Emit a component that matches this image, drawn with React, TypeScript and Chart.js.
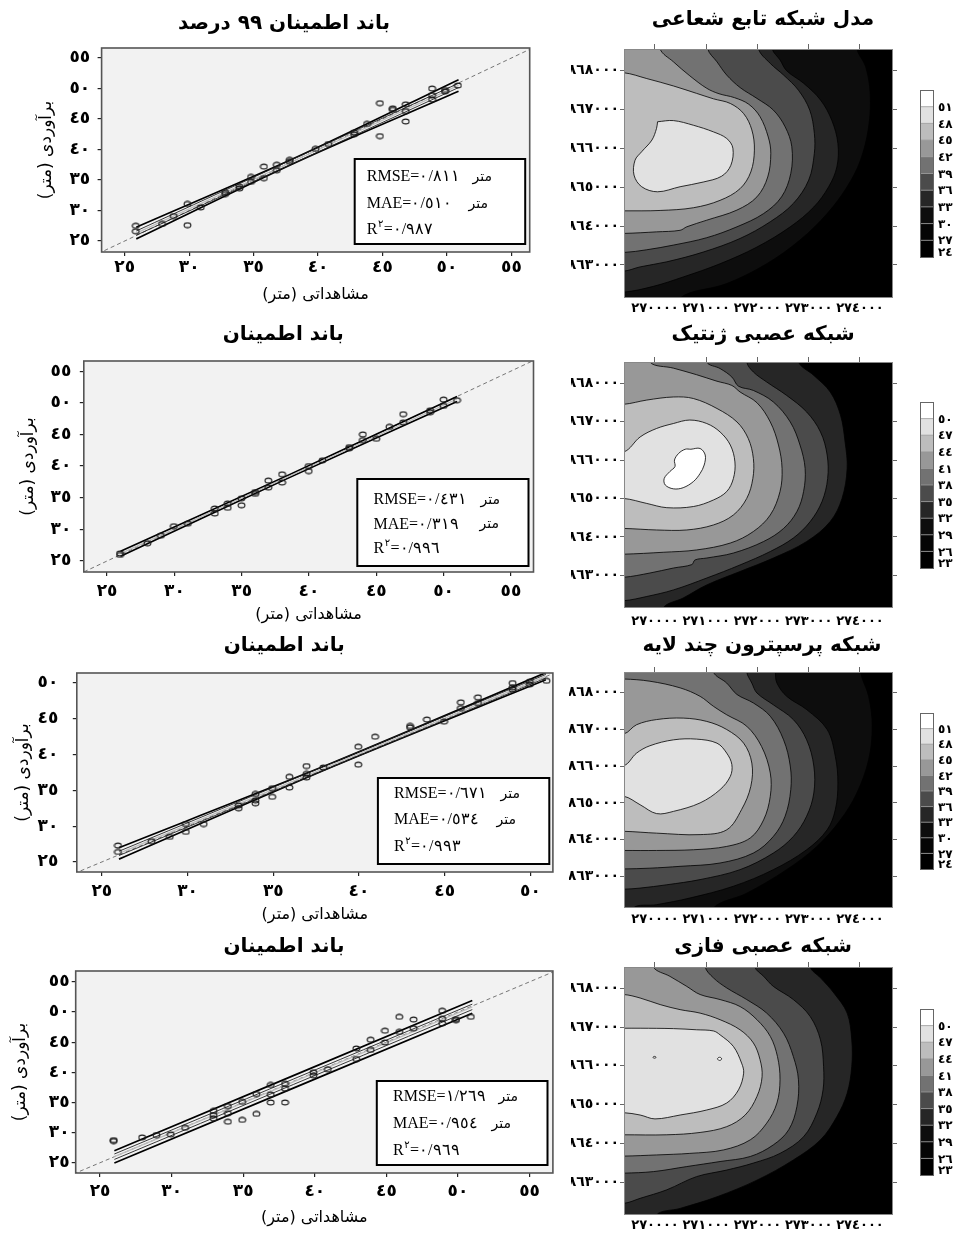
import React, { useEffect, useRef } from "react";
import { Chart, registerables } from "chart.js";

Chart.register(...registerables);

type Pt = [number, number];

const FONT = '"DejaVu Sans", sans-serif';
const SERIF = '"Liberation Serif", "DejaVu Serif", serif';
const AR_DIGITS = "٠١٢٣٤٥٦٧٨٩";
const toAr = (s: string | number) => String(s).replace(/[0-9]/g, (d) => AR_DIGITS[Number(d)]);
const RLM = "\u200F";

// ---------------- scatter panels (observed vs estimated) ----------------
const OBS_TICKS_WIDE = [25, 30, 35, 40, 45, 50, 55];
const OBS_TICKS_NARROW = [25, 30, 35, 40, 45, 50];
const X_TITLE = "مشاهداتی (متر)";
const Y_TITLE = "برآوردی (متر)";
const UNIT = "متر";
const SCATTER_TITLES = ["باند اطمینان ۹۹ درصد", "باند اطمینان", "باند اطمینان", "باند اطمینان"];

const RMSE_VALUES = [0.811, 0.431, 0.671, 1.269];
const MAE_VALUES = [0.51, 0.319, 0.534, 0.954];
const R2_VALUES = [0.987, 0.996, 0.993, 0.969];

const OBS_R1 = [25.86, 25.86, 27.9, 28.8, 29.87, 29.87, 30.9, 32.8, 32.8, 33.9, 33.9, 34.8, 34.8, 35.8, 35.8, 36.8, 36.8, 37.8, 37.8, 39.8, 40.8, 42.8, 42.8, 43.8, 44.8, 44.8, 45.8, 45.8, 46.8, 46.8, 46.8, 48.85, 48.85, 48.85, 49.85, 49.85, 50.85];
const EST_R1 = [27.5, 26.6, 27.8, 29.1, 31.07, 27.6, 30.5, 33.0, 32.7, 33.9, 33.6, 35.5, 34.7, 37.2, 35.3, 37.5, 36.6, 38.3, 38.0, 40.1, 40.9, 42.8, 42.5, 44.2, 47.6, 42.2, 46.75, 46.5, 47.4, 46.3, 44.6, 50.0, 48.9, 48.2, 49.75, 49.5, 50.5];
const FIT_R1: Pt[] = [[25.9, 26.3], [50.9, 50.5]];
const UPPER_R1: Pt[] = [[25.9, 27.25], [38.4, 38.8], [50.9, 51.45]];
const LOWER_R1: Pt[] = [[25.9, 25.35], [38.4, 38.0], [50.9, 49.55]];
const INNER_UP_R1: Pt[] = [[25.9, 26.65], [50.9, 50.85]];
const INNER_LO_R1: Pt[] = [[25.9, 25.95], [50.9, 50.15]];

const OBS_R2 = [25.96, 25.96, 28.0, 29.0, 29.96, 31.0, 33.0, 33.0, 33.96, 33.96, 34.99, 34.99, 36.0, 36.0, 36.98, 36.98, 38.0, 38.0, 39.98, 39.98, 41.0, 43.0, 43.0, 44.0, 44.0, 45.0, 45.98, 47.0, 47.0, 49.0, 49.0, 50.0, 50.0, 51.0];
const EST_R2 = [26.2, 25.95, 27.8, 29.0, 30.5, 30.9, 33.3, 32.5, 34.1, 33.4, 34.9, 33.8, 35.9, 35.6, 37.7, 36.6, 38.7, 37.4, 40.0, 39.2, 40.9, 43.0, 42.8, 45.0, 44.1, 44.3, 46.2, 48.2, 46.9, 48.8, 48.5, 50.5, 49.5, 50.4];
const FIT_R2: Pt[] = [[26, 26.15], [51, 50.6]];
const UPPER_R2: Pt[] = [[26, 26.55], [38.5, 38.6], [51, 51.0]];
const LOWER_R2: Pt[] = [[26, 25.75], [38.5, 38.15], [51, 50.2]];
const INNER_UP_R2: Pt[] = [];
const INNER_LO_R2: Pt[] = [];

const OBS_R3 = [25.94, 25.94, 27.9, 28.96, 29.9, 29.9, 30.94, 32.98, 32.98, 33.96, 33.96, 33.96, 34.94, 34.94, 35.94, 35.94, 36.94, 36.94, 36.94, 37.92, 39.96, 39.96, 40.94, 42.98, 42.98, 43.96, 44.96, 45.94, 45.94, 46.94, 46.94, 48.96, 48.96, 48.96, 49.96, 49.96, 50.94];
const EST_R3 = [27.3, 26.4, 27.9, 28.5, 30.3, 29.2, 30.3, 32.9, 32.5, 34.5, 33.2, 33.6, 35.3, 34.1, 36.9, 35.4, 38.4, 36.8, 37.3, 38.2, 41.1, 38.6, 42.5, 44.0, 43.8, 44.9, 44.6, 47.3, 46.5, 48.0, 47.2, 50.0, 49.1, 49.4, 50.2, 49.8, 50.3];
const FIT_R3: Pt[] = [[26, 26.2], [50.9, 50.95]];
const UPPER_R3: Pt[] = [[26, 27.0], [38.45, 38.85], [50.9, 51.45]];
const LOWER_R3: Pt[] = [[26, 25.4], [38.45, 38.3], [50.9, 50.45]];
const INNER_UP_R3: Pt[] = [[26, 26.5], [50.9, 51.2]];
const INNER_LO_R3: Pt[] = [[26, 25.9], [50.9, 50.7]];

const OBS_R4 = [25.95, 25.95, 27.94, 28.94, 29.94, 30.94, 32.93, 32.93, 32.93, 33.93, 33.93, 33.93, 34.93, 34.93, 35.92, 35.92, 36.92, 36.92, 36.92, 37.92, 37.92, 37.92, 39.91, 39.91, 40.91, 42.9, 42.9, 43.9, 43.9, 44.9, 44.9, 45.9, 45.9, 46.9, 46.9, 48.9, 48.9, 48.9, 49.86, 49.86, 50.9];
const EST_R4 = [28.76, 28.6, 29.2, 29.6, 29.7, 30.8, 33.6, 32.9, 32.35, 34.4, 33.2, 31.8, 35.1, 32.1, 36.4, 33.1, 37.9, 36.3, 35.0, 38.1, 37.3, 35.0, 40.0, 39.5, 40.5, 43.95, 42.2, 45.4, 43.7, 46.9, 44.95, 49.2, 46.7, 48.75, 47.3, 50.2, 48.9, 48.1, 48.65, 48.8, 49.2];
const FIT_R4: Pt[] = [[26, 26.0], [51, 50.85]];
const UPPER_R4: Pt[] = [[26, 27.0], [51, 51.9]];
const LOWER_R4: Pt[] = [[26, 24.95], [51, 49.8]];
const INNER_UP_R4: Pt[] = [[26, 26.45], [51, 51.3]];
const INNER_LO_R4: Pt[] = [[26, 25.55], [51, 50.4]];

// axis ranges read from the frames
const X_RANGE_R1: Pt = [23.21, 56.42];
const Y_RANGE_R1: Pt = [23.2, 56.64];
const X_RANGE_R2: Pt = [23.27, 56.68];
const Y_RANGE_R2: Pt = [23.26, 56.6];
const X_RANGE_R3: Pt = [23.54, 51.31];
const Y_RANGE_R3: Pt = [23.6, 51.4];
const X_RANGE_R4: Pt = [23.3, 56.63];
const Y_RANGE_R4: Pt = [23.3, 56.8];

// ---------------- contour maps ----------------
const MAP_TITLES = ["مدل شبکه تابع شعاعی", "شبکه عصبی ژنتیک", "شبکه پرسپترون چند لایه", "شبکه عصبی فازی"];
const MAP_X_RANGE: Pt = [269.395, 274.645]; // km
const MAP_Y_RANGE: Pt = [3862.15, 3868.55]; // km
const MAP_X_TICKS = [270, 271, 272, 273, 274];
const MAP_Y_TICKS = [3863, 3864, 3865, 3866, 3867, 3868];
const GRAYS = ["#000000", "#050505", "#0d0d0d", "#262626", "#4b4b4b", "#727272", "#989898", "#bdbdbd", "#e1e1e1", "#ffffff"];

const RBF_LEVELS = [24, 27, 30, 33, 36, 39, 42, 45, 48, 51];
const RBF_48: Pt[] = [[270.05, 3866.68], [270.36, 3866.71], [270.75, 3866.59], [271.14, 3866.42], [271.4, 3866.25], [271.52, 3866.0], [271.48, 3865.56], [271.3, 3865.28], [270.94, 3865.13], [270.49, 3865.01], [270.05, 3864.88], [269.74, 3865.01], [269.59, 3865.31], [269.61, 3865.69], [269.74, 3865.91], [269.94, 3866.21], [270.03, 3866.51]];
const RBF_45: Pt[] = [[269.39, 3867.94], [269.84, 3867.79], [270.36, 3867.6], [270.81, 3867.41], [271.14, 3867.27], [271.47, 3867.15], [271.73, 3866.89], [271.89, 3866.47], [271.94, 3865.95], [271.87, 3865.39], [271.66, 3864.96], [271.27, 3864.66], [270.75, 3864.47], [270.1, 3864.4], [269.39, 3864.39]];
const RBF_42: Pt[] = [[270.1, 3868.55], [270.36, 3868.22], [270.68, 3867.86], [271.01, 3867.54], [271.25, 3867.4], [271.55, 3867.3], [271.83, 3867.13], [272.05, 3866.81], [272.21, 3866.29], [272.26, 3865.87], [272.2, 3865.26], [271.99, 3864.75], [271.6, 3864.41], [271.01, 3864.15], [270.62, 3863.98], [270.49, 3863.89], [270.03, 3863.85], [269.39, 3863.81]];
const RBF_39: Pt[] = [[271.03, 3868.55], [271.21, 3868.22], [271.4, 3867.88], [271.66, 3867.56], [271.99, 3867.28], [272.31, 3866.98], [272.54, 3866.55], [272.67, 3866.04], [272.65, 3865.35], [272.47, 3864.75], [272.12, 3864.32], [271.6, 3863.98], [271.01, 3863.7], [270.36, 3863.51], [269.84, 3863.39], [269.39, 3863.32]];
const RBF_36: Pt[] = [[272.02, 3868.55], [272.25, 3868.18], [272.51, 3867.88], [272.8, 3867.49], [273.02, 3866.98], [273.11, 3866.38], [273.11, 3865.87], [273.0, 3865.18], [272.7, 3864.58], [272.25, 3864.11], [271.66, 3863.68], [270.94, 3863.33], [270.23, 3863.08], [269.71, 3862.95], [269.39, 3862.84]];
const RBF_33: Pt[] = [[272.29, 3868.55], [272.44, 3868.27], [272.57, 3867.99], [272.9, 3867.67], [273.23, 3867.24], [273.45, 3866.72], [273.57, 3866.12], [273.55, 3865.52], [273.39, 3865.01], [273.1, 3864.49], [272.64, 3863.98], [271.99, 3863.46], [271.27, 3863.03], [270.55, 3862.69], [269.97, 3862.45], [269.39, 3862.3]];
const RBF_30: Pt[] = [[273.94, 3868.55], [274.11, 3868.1], [274.2, 3867.41], [274.17, 3866.55], [274.01, 3865.69], [273.75, 3865.01], [273.36, 3864.32], [272.83, 3863.64], [272.18, 3863.03], [271.4, 3862.52], [270.49, 3862.15]];

const GA_LEVELS = [23, 26, 29, 32, 35, 38, 41, 44, 47, 50];
const GA_50: Pt[] = [[270.7, 3866.28], [270.88, 3866.3], [270.98, 3866.13], [270.96, 3865.87], [270.88, 3865.65], [270.75, 3865.44], [270.55, 3865.28], [270.36, 3865.25], [270.2, 3865.35], [270.18, 3865.52], [270.29, 3865.7], [270.39, 3865.83], [270.38, 3866.0], [270.46, 3866.17], [270.59, 3866.28]];
const GA_47: Pt[] = [[269.39, 3866.21], [269.71, 3866.6], [270.03, 3866.82], [270.36, 3866.95], [270.68, 3867.04], [271.01, 3866.95], [271.27, 3866.73], [271.47, 3866.39], [271.56, 3865.95], [271.53, 3865.52], [271.4, 3865.18], [271.14, 3864.96], [270.75, 3864.79], [270.23, 3864.76], [269.84, 3864.87], [269.39, 3865.0]];
const GA_44: Pt[] = [[269.39, 3867.45], [269.84, 3867.56], [270.36, 3867.64], [270.75, 3867.6], [271.21, 3867.34], [271.6, 3866.99], [271.82, 3866.56], [271.92, 3866.04], [271.91, 3865.52], [271.79, 3865.0], [271.53, 3864.57], [271.14, 3864.31], [270.62, 3864.18], [270.03, 3864.18], [269.39, 3864.22]];
const GA_41: Pt[] = [[269.9, 3868.55], [270.36, 3868.39], [270.81, 3868.22], [271.21, 3868.05], [271.5, 3867.94], [271.66, 3867.77], [271.99, 3867.49], [272.25, 3866.99], [272.41, 3866.39], [272.48, 3865.78], [272.44, 3865.18], [272.25, 3864.57], [271.92, 3864.14], [271.47, 3863.84], [270.81, 3863.66], [270.16, 3863.6], [269.39, 3863.55]];
const GA_38: Pt[] = [[271.01, 3868.55], [271.27, 3868.38], [271.5, 3868.16], [271.63, 3867.92], [271.92, 3867.81], [272.31, 3867.51], [272.64, 3866.99], [272.83, 3866.39], [272.93, 3865.78], [272.9, 3865.18], [272.77, 3864.66], [272.51, 3864.22], [272.12, 3863.88], [271.53, 3863.58], [271.01, 3863.45], [270.78, 3863.4], [270.72, 3863.28], [270.36, 3863.19], [269.9, 3863.06], [269.39, 3862.95]];
const GA_35: Pt[] = [[271.79, 3868.55], [271.92, 3868.29], [272.18, 3868.03], [272.57, 3867.68], [272.96, 3867.25], [273.23, 3866.73], [273.36, 3866.13], [273.37, 3865.52], [273.26, 3864.92], [273.03, 3864.4], [272.7, 3863.97], [272.25, 3863.62], [271.66, 3863.27], [271.01, 3862.93], [270.36, 3862.62], [269.84, 3862.45], [269.39, 3862.34]];
const GA_32: Pt[] = [[272.8, 3868.55], [273.1, 3868.2], [273.42, 3867.77], [273.62, 3867.17], [273.71, 3866.47], [273.75, 3865.78], [273.65, 3865.0], [273.42, 3864.4], [272.96, 3863.88], [272.31, 3863.45], [271.66, 3863.1], [271.01, 3862.75], [270.55, 3862.41], [270.16, 3862.15]];

const MLP_LEVELS = [24, 27, 30, 33, 36, 39, 42, 45, 48, 51];
const MLP_48: Pt[] = [[269.39, 3866.01], [269.64, 3866.35], [269.9, 3866.55], [270.36, 3866.71], [270.81, 3866.73], [271.21, 3866.62], [271.4, 3866.35], [271.5, 3866.04], [271.47, 3865.72], [271.27, 3865.36], [270.88, 3865.0], [270.36, 3864.77], [270.03, 3864.71], [269.71, 3864.95], [269.39, 3865.18]];
const MLP_45: Pt[] = [[269.39, 3866.87], [269.64, 3867.12], [270.03, 3867.26], [270.55, 3867.3], [271.01, 3867.21], [271.4, 3866.99], [271.73, 3866.62], [271.89, 3866.08], [271.87, 3865.45], [271.69, 3864.82], [271.4, 3864.27], [270.88, 3864.14], [270.03, 3864.18], [269.39, 3864.23]];
const MLP_42: Pt[] = [[269.39, 3868.36], [269.9, 3868.3], [270.49, 3868.12], [270.88, 3867.89], [271.14, 3867.62], [271.4, 3867.39], [271.79, 3867.08], [272.08, 3866.53], [272.25, 3865.81], [272.25, 3865.18], [272.12, 3864.54], [271.86, 3864.05], [271.4, 3863.82], [270.75, 3863.73], [270.03, 3863.71], [269.39, 3863.71]];
const MLP_39: Pt[] = [[271.14, 3868.55], [271.4, 3868.25], [271.6, 3867.94], [271.92, 3867.71], [272.25, 3867.35], [272.51, 3866.71], [272.64, 3866.0], [272.65, 3865.36], [272.54, 3864.64], [272.31, 3864.09], [271.92, 3863.64], [271.27, 3863.37], [270.49, 3863.28], [269.9, 3863.23], [269.39, 3863.21]];
const MLP_36: Pt[] = [[271.79, 3868.55], [271.89, 3868.25], [271.99, 3867.98], [272.31, 3867.66], [272.7, 3867.26], [272.96, 3866.71], [273.1, 3866.0], [273.1, 3865.27], [272.96, 3864.64], [272.7, 3864.09], [272.31, 3863.64], [271.66, 3863.19], [270.88, 3862.92], [270.23, 3862.78], [269.71, 3862.69], [269.39, 3862.66]];
const MLP_33: Pt[] = [[272.35, 3868.55], [272.38, 3868.25], [272.57, 3867.89], [272.96, 3867.53], [273.36, 3866.99], [273.52, 3866.26], [273.57, 3865.54], [273.52, 3864.82], [273.36, 3864.27], [272.96, 3863.73], [272.31, 3863.19], [271.53, 3862.74], [270.68, 3862.42], [270.03, 3862.24], [269.58, 3862.15]];
const MLP_30: Pt[] = [[274.01, 3868.55], [274.17, 3867.89], [274.24, 3867.08], [274.17, 3866.17], [273.94, 3865.27], [273.62, 3864.54], [273.16, 3863.82], [272.57, 3863.19], [271.79, 3862.55], [271.14, 3862.15]];

const PNN_LEVELS = [23, 26, 29, 32, 35, 38, 41, 44, 47, 50];
const PNN_50A: Pt[] = [[269.96, 3866.22], [269.975, 3866.24], [270.005, 3866.24], [270.02, 3866.22], [270.005, 3866.2], [269.975, 3866.2]];
const PNN_50B: Pt[] = [[271.22, 3866.18], [271.24, 3866.215], [271.28, 3866.215], [271.3, 3866.18], [271.28, 3866.145], [271.24, 3866.145]];
const PNN_47: Pt[] = [[269.39, 3866.97], [269.71, 3866.97], [270.36, 3866.96], [270.81, 3866.93], [271.14, 3866.9], [271.27, 3866.8], [271.53, 3866.5], [271.69, 3866.07], [271.73, 3865.81], [271.63, 3865.38], [271.4, 3865.04], [271.01, 3864.86], [270.49, 3864.73], [270.0, 3864.63], [269.71, 3864.73], [269.39, 3864.79]];
const PNN_44: Pt[] = [[269.39, 3867.84], [269.71, 3867.75], [270.1, 3867.58], [270.49, 3867.45], [270.88, 3867.36], [271.27, 3867.19], [271.66, 3866.93], [271.92, 3866.59], [272.05, 3866.16], [272.09, 3865.72], [271.99, 3865.21], [271.76, 3864.73], [271.4, 3864.43], [270.88, 3864.28], [270.23, 3864.22], [269.39, 3864.22]];
const PNN_41: Pt[] = [[269.97, 3868.55], [270.29, 3868.31], [270.62, 3868.05], [270.88, 3867.84], [271.27, 3867.71], [271.66, 3867.53], [271.99, 3867.19], [272.25, 3866.76], [272.39, 3866.24], [272.44, 3865.64], [272.38, 3865.04], [272.18, 3864.52], [271.86, 3864.09], [271.34, 3863.83], [270.68, 3863.74], [270.03, 3863.7], [269.39, 3863.67]];
const PNN_38: Pt[] = [[270.98, 3868.55], [271.14, 3868.27], [271.4, 3868.01], [271.79, 3867.71], [272.18, 3867.36], [272.51, 3866.84], [272.7, 3866.24], [272.8, 3865.64], [272.77, 3864.95], [272.61, 3864.35], [272.31, 3863.96], [271.86, 3863.66], [271.27, 3863.53], [270.62, 3863.4], [269.97, 3863.27], [269.39, 3863.23]];
const PNN_35: Pt[] = [[271.95, 3868.55], [272.12, 3868.31], [272.31, 3868.05], [272.7, 3867.71], [273.03, 3867.27], [273.23, 3866.67], [273.29, 3865.98], [273.28, 3865.38], [273.16, 3864.78], [272.9, 3864.17], [272.44, 3863.74], [271.92, 3863.49], [271.4, 3863.31], [270.81, 3863.14], [270.23, 3862.8], [269.71, 3862.58], [269.39, 3862.45]];
const PNN_32: Pt[] = [[273.03, 3868.55], [273.23, 3868.27], [273.49, 3867.88], [273.75, 3867.36], [273.84, 3866.67], [273.84, 3865.98], [273.75, 3865.29], [273.55, 3864.69], [273.23, 3864.09], [272.7, 3863.57], [271.99, 3863.05], [271.21, 3862.62], [270.49, 3862.32], [270.03, 3862.15]];

// ---------------- layout (page coordinates) ----------------
type Box = { x: number; y: number; w: number; h: number };
type Rect = { l: number; t: number; r: number; b: number };

interface ScatterSpec {
  title: string;
  obs: number[]; est: number[];
  fit: Pt[]; upper: Pt[]; lower: Pt[]; innerUp: Pt[]; innerLo: Pt[];
  xr: Pt; yr: Pt; ticks: number[];
  rmse: number; mae: number; r2: number;
  canvas: Box; plot: Rect; titleC: { x: number; y: number };
  yTitleX: number; xTitleY: number; labelCY: number; yLabelRight: number;
  box: Rect; textX: number; unitRight: number[]; lines: number[];
}

const SCATTERS: ScatterSpec[] = [
  {
    title: SCATTER_TITLES[0], obs: OBS_R1, est: EST_R1, fit: FIT_R1, upper: UPPER_R1, lower: LOWER_R1, innerUp: INNER_UP_R1, innerLo: INNER_LO_R1,
    xr: X_RANGE_R1, yr: Y_RANGE_R1, ticks: OBS_TICKS_WIDE, rmse: RMSE_VALUES[0], mae: MAE_VALUES[0], r2: R2_VALUES[0],
    canvas: { x: 0, y: 0, w: 560, h: 320 }, plot: { l: 101.6, t: 48, r: 529.7, b: 252 }, titleC: { x: 284, y: 24 },
    yTitleX: 47, xTitleY: 295, labelCY: 268, yLabelRight: 90.2,
    box: { l: 354.7, t: 159, r: 525.2, b: 244 }, textX: 366.8, unitRight: [492, 488], lines: [177, 204, 230],
  },
  {
    title: SCATTER_TITLES[1], obs: OBS_R2, est: EST_R2, fit: FIT_R2, upper: UPPER_R2, lower: LOWER_R2, innerUp: INNER_UP_R2, innerLo: INNER_LO_R2,
    xr: X_RANGE_R2, yr: Y_RANGE_R2, ticks: OBS_TICKS_WIDE, rmse: RMSE_VALUES[1], mae: MAE_VALUES[1], r2: R2_VALUES[1],
    canvas: { x: 0, y: 320, w: 560, h: 315 }, plot: { l: 83.8, t: 361, r: 533.5, b: 572 }, titleC: { x: 283.3, y: 335 },
    yTitleX: 28.7, xTitleY: 615, labelCY: 592, yLabelRight: 71.3,
    box: { l: 357.3, t: 479, r: 528.5, b: 566 }, textX: 373.5, unitRight: [500, 499], lines: [500, 524.5, 549],
  },
  {
    title: SCATTER_TITLES[2], obs: OBS_R3, est: EST_R3, fit: FIT_R3, upper: UPPER_R3, lower: LOWER_R3, innerUp: INNER_UP_R3, innerLo: INNER_LO_R3,
    xr: X_RANGE_R3, yr: Y_RANGE_R3, ticks: OBS_TICKS_NARROW, rmse: RMSE_VALUES[2], mae: MAE_VALUES[2], r2: R2_VALUES[2],
    canvas: { x: 0, y: 635, w: 560, h: 297 }, plot: { l: 76.8, t: 673, r: 552.9, b: 872 }, titleC: { x: 284, y: 646 },
    yTitleX: 24, xTitleY: 915, labelCY: 892, yLabelRight: 58.3,
    box: { l: 377.9, t: 778, r: 549.3, b: 864 }, textX: 394, unitRight: [520, 516], lines: [794, 820, 847],
  },
  {
    title: SCATTER_TITLES[3], obs: OBS_R4, est: EST_R4, fit: FIT_R4, upper: UPPER_R4, lower: LOWER_R4, innerUp: INNER_UP_R4, innerLo: INNER_LO_R4,
    xr: X_RANGE_R4, yr: Y_RANGE_R4, ticks: OBS_TICKS_WIDE, rmse: RMSE_VALUES[3], mae: MAE_VALUES[3], r2: R2_VALUES[3],
    canvas: { x: 0, y: 932, w: 560, h: 301 }, plot: { l: 75.7, t: 971, r: 552.9, b: 1173 }, titleC: { x: 284, y: 947 },
    yTitleX: 21, xTitleY: 1218, labelCY: 1192, yLabelRight: 69.6,
    box: { l: 376.8, t: 1081, r: 547.5, b: 1165 }, textX: 393, unitRight: [518, 511], lines: [1097, 1124, 1151],
  },
];

interface Contour { v: number; pts: Pt[]; closed?: boolean }
interface MapSpec {
  title: string; levels: number[]; contours: Contour[];
  canvas: Box; plot: Rect; titleC: { x: number; y: number }; labelCY: number; legend: Rect;
}

const MAPS: MapSpec[] = [
  {
    title: MAP_TITLES[0], levels: RBF_LEVELS,
    contours: [{ v: 48, pts: RBF_48, closed: true }, { v: 45, pts: RBF_45 }, { v: 42, pts: RBF_42 }, { v: 39, pts: RBF_39 }, { v: 36, pts: RBF_36 }, { v: 33, pts: RBF_33 }, { v: 30, pts: RBF_30 }],
    canvas: { x: 520, y: 0, w: 435, h: 320 }, plot: { l: 624, t: 49, r: 893, b: 298 }, titleC: { x: 763, y: 20 }, labelCY: 309,
    legend: { l: 920, t: 90, r: 933, b: 257 },
  },
  {
    title: MAP_TITLES[1], levels: GA_LEVELS,
    contours: [{ v: 50, pts: GA_50, closed: true }, { v: 47, pts: GA_47 }, { v: 44, pts: GA_44 }, { v: 41, pts: GA_41 }, { v: 38, pts: GA_38 }, { v: 35, pts: GA_35 }, { v: 32, pts: GA_32 }],
    canvas: { x: 520, y: 320, w: 435, h: 315 }, plot: { l: 624, t: 362, r: 893, b: 608 }, titleC: { x: 763, y: 335 }, labelCY: 622,
    legend: { l: 920, t: 402, r: 933, b: 568 },
  },
  {
    title: MAP_TITLES[2], levels: MLP_LEVELS,
    contours: [{ v: 48, pts: MLP_48 }, { v: 45, pts: MLP_45 }, { v: 42, pts: MLP_42 }, { v: 39, pts: MLP_39 }, { v: 36, pts: MLP_36 }, { v: 33, pts: MLP_33 }, { v: 30, pts: MLP_30 }],
    canvas: { x: 520, y: 635, w: 435, h: 297 }, plot: { l: 624, t: 672, r: 893, b: 908 }, titleC: { x: 762, y: 646 }, labelCY: 920,
    legend: { l: 920, t: 713, r: 933, b: 869 },
  },
  {
    title: MAP_TITLES[3], levels: PNN_LEVELS,
    contours: [{ v: 50, pts: PNN_50A, closed: true }, { v: 50, pts: PNN_50B, closed: true }, { v: 47, pts: PNN_47 }, { v: 44, pts: PNN_44 }, { v: 41, pts: PNN_41 }, { v: 38, pts: PNN_38 }, { v: 35, pts: PNN_35 }, { v: 32, pts: PNN_32 }],
    canvas: { x: 520, y: 932, w: 435, h: 301 }, plot: { l: 624, t: 967, r: 893, b: 1215 }, titleC: { x: 763, y: 947 }, labelCY: 1226,
    legend: { l: 920, t: 1009, r: 933, b: 1175 },
  },
];

// ---------------- helpers ----------------
let ellipseCache: HTMLCanvasElement | null = null;
function ellipseMarker() {
  if (ellipseCache) return ellipseCache;
  const c = document.createElement("canvas");
  c.width = 9; c.height = 7;
  const g = c.getContext("2d")!;
  g.strokeStyle = "#1a1a1a"; g.lineWidth = 1.1;
  g.beginPath(); g.ellipse(4.5, 3.5, 3.4, 2.4, 0, 0, Math.PI * 2); g.stroke();
  ellipseCache = c;
  return c;
}

const fmt = (n: number) => toAr(n.toFixed(3)).replace(".", "/");
const toXY = (pts: Pt[]) => pts.map(([x, y]) => ({ x, y }));

const EXT = 0.6;
function contourPath(c: Contour) {
  const P = toXY(c.pts);
  if (c.closed) return [...P, P[0]];
  const [xmin] = MAP_X_RANGE; const [ymin, ymax] = MAP_Y_RANGE;
  const onLeft = (p: any) => Math.abs(p.x - xmin) < 0.03;
  const onTop = (p: any) => Math.abs(p.y - ymax) < 0.03;
  const onBottom = (p: any) => Math.abs(p.y - ymin) < 0.03;
  const ext = (p: any) => {
    if (onLeft(p)) return { x: xmin - EXT, y: p.y };
    if (onTop(p)) return { x: p.x, y: ymax + EXT };
    if (onBottom(p)) return { x: p.x, y: ymin - EXT };
    return { x: p.x + EXT, y: p.y };
  };
  const s = P[0]; const e = P[P.length - 1];
  const out = [ext(s), ...P, ext(e)];
  if (onBottom(e)) out.push({ x: xmin - EXT, y: ymin - EXT });
  if (!(onLeft(s) && onLeft(e))) out.push({ x: xmin - EXT, y: ymax + EXT });
  return out;
}

const SC_TICK_SIZE = 17;
const AX_TITLE_SIZE_Y = 17;
const AX_TITLE_SIZE_X = 16;

function scatterConfig(s: ScatterSpec): any {
  const c = s.canvas, p = s.plot;
  const L = p.l - c.x, R = p.r - c.x, T = p.t - c.y, B = p.b - c.y;
  const pl = s.yTitleX - c.x - AX_TITLE_SIZE_Y / 2;
  let pr = c.w + pl - 2 * (s.titleC.x - c.x);
  pr = Math.max(0, Math.min(pr, c.w - R));
  const wR = c.w - R - pr;
  const yW = L - pl;
  const xH = c.h - B;
  const tcy = s.titleC.y - c.y;
  const lineDs = (pts: Pt[], color: string, width: number, dash: number[] = []) => ({
    data: toXY(pts), borderColor: color, borderWidth: width, borderDash: dash,
    pointRadius: 0, fill: false, tension: 0.3,
  });
  const bg = {
    id: "bg",
    beforeDraw(chart: any) {
      const a = chart.chartArea; const ctx = chart.ctx;
      ctx.save(); ctx.fillStyle = "#f2f2f2"; ctx.fillRect(a.left, a.top, a.right - a.left, a.bottom - a.top); ctx.restore();
    },
  };
  const frame = {
    id: "frame",
    afterDatasetsDraw(chart: any) {
      const a = chart.chartArea; const ctx = chart.ctx;
      ctx.save(); ctx.strokeStyle = "#555"; ctx.lineWidth = 1.6;
      ctx.strokeRect(a.left, a.top, a.right - a.left, a.bottom - a.top); ctx.restore();
    },
  };
  const stats = {
    id: "stats",
    afterDraw(chart: any) {
      const ctx = chart.ctx;
      const bx = s.box.l - c.x, by = s.box.t - c.y, bw = s.box.r - s.box.l, bh = s.box.b - s.box.t;
      const tx = s.textX - c.x;
      const [l1, l2, l3] = s.lines.map((v) => v - c.y);
      ctx.save();
      ctx.fillStyle = "#fff"; ctx.fillRect(bx, by, bw, bh);
      ctx.strokeStyle = "#000"; ctx.lineWidth = 2; ctx.strokeRect(bx, by, bw, bh);
      ctx.fillStyle = "#000"; ctx.textBaseline = "middle"; ctx.textAlign = "left";
      ctx.font = `16px ${SERIF}`;
      ctx.fillText("RMSE=" + fmt(s.rmse), tx, l1);
      ctx.fillText("MAE=" + fmt(s.mae), tx, l2);
      ctx.fillText("R", tx, l3);
      const rw = ctx.measureText("R").width;
      ctx.font = `10px ${FONT}`;
      const sup = toAr(2);
      ctx.fillText(sup, tx + rw + 0.5, l3 - 6);
      const sw = ctx.measureText(sup).width;
      ctx.font = `16px ${SERIF}`;
      ctx.fillText("=" + fmt(s.r2), tx + rw + sw + 1, l3);
      ctx.font = `14px ${FONT}`; ctx.textAlign = "right";
      ctx.fillText(UNIT, s.unitRight[0] - c.x, l1);
      ctx.fillText(UNIT, s.unitRight[1] - c.x, l2);
      ctx.restore();
    },
  };
  const tickFont = { family: FONT, size: SC_TICK_SIZE, weight: "bold" as const };
  const scales: any = {
    x: {
      type: "linear", position: "bottom", min: s.xr[0], max: s.xr[1],
      afterBuildTicks: (sc: any) => { sc.ticks = s.ticks.map((v) => ({ value: v })); },
      afterFit: (sc: any) => { sc.height = xH; },
      ticks: { callback: (v: any) => toAr(v), font: tickFont, color: "#000", padding: s.labelCY - p.b - 4 - SC_TICK_SIZE * 0.6, autoSkip: false, maxRotation: 0, minRotation: 0 },
      grid: { display: true, drawOnChartArea: false, drawTicks: true, tickLength: 4, color: "#222", lineWidth: 1.2 },
      border: { display: false },
      title: { display: true, text: X_TITLE + RLM, color: "#000", font: { family: FONT, size: AX_TITLE_SIZE_X, lineHeight: 1.2 }, padding: { top: 0, bottom: c.y + c.h - s.xTitleY - AX_TITLE_SIZE_X * 0.6 } },
    },
    y: {
      type: "linear", position: "left", min: s.yr[0], max: s.yr[1],
      afterBuildTicks: (sc: any) => { sc.ticks = s.ticks.map((v) => ({ value: v })); },
      afterFit: (sc: any) => { sc.width = yW; },
      ticks: { callback: (v: any) => toAr(v), font: tickFont, color: "#000", padding: p.l - 4 - s.yLabelRight },
      grid: { display: true, drawOnChartArea: false, drawTicks: true, tickLength: 4, color: "#222", lineWidth: 1.2 },
      border: { display: false },
      title: { display: true, text: Y_TITLE + RLM, color: "#000", font: { family: FONT, size: AX_TITLE_SIZE_Y, lineHeight: 1 }, padding: { top: 0, bottom: 0 } },
    },
  };
  if (wR > 0.5) {
    scales.yR = {
      type: "linear", position: "right", min: 0, max: 1, display: true,
      afterFit: (sc: any) => { sc.width = wR; },
      ticks: { display: false }, grid: { display: false, drawTicks: false }, border: { display: false },
    };
  }
  return {
    type: "line",
    data: {
      datasets: [
        { data: s.obs.map((x, i) => ({ x, y: s.est[i] })), showLine: false, pointStyle: ellipseMarker(), pointRadius: 3, pointHoverRadius: 3, borderColor: "#1a1a1a", backgroundColor: "rgba(0,0,0,0)" },
        lineDs(s.fit, "#bdbdbd", 1.3),
        lineDs(s.innerUp, "#222", 0.9),
        lineDs(s.innerLo, "#222", 0.9),
        lineDs(s.upper, "#000", 1.7),
        lineDs(s.lower, "#000", 1.7),
        lineDs([[20, 20], [60, 60]], "#555", 0.8, [4, 3]),
      ],
    },
    options: {
      animation: false, responsive: false, events: [],
      layout: { padding: { left: pl, right: pr, top: 0, bottom: 0 } },
      plugins: {
        legend: { display: false }, tooltip: { enabled: false },
        title: { display: true, text: s.title + RLM, color: "#000", font: { family: FONT, size: 20, weight: "bold", lineHeight: 1 }, padding: { top: tcy - 10, bottom: T - tcy - 10 } },
      },
      scales,
    },
    plugins: [bg, frame, stats],
  };
}

function mapConfig(m: MapSpec): any {
  const c = m.canvas, p = m.plot;
  const L = p.l - c.x, R = p.r - c.x, T = p.t - c.y, B = p.b - c.y;
  const pl = 2 * (m.titleC.x - c.x) - c.w;
  const yW = L - pl; const wR = c.w - R; const xH = c.h - B;
  const tcy = m.titleC.y - c.y;
  const sorted = m.contours.slice().sort((a, b) => b.v - a.v);
  const datasets = sorted.map((ct) => ({
    data: contourPath(ct), fill: "shape", backgroundColor: GRAYS[m.levels.indexOf(ct.v)],
    borderColor: "#000", borderWidth: 0.8, pointRadius: 0, tension: 0.35, capBezierPoints: false,
  }));
  const bg = {
    id: "mapbg",
    beforeDraw(chart: any) {
      const a = chart.chartArea; const ctx = chart.ctx;
      ctx.save(); ctx.fillStyle = GRAYS[0]; ctx.fillRect(a.left, a.top, a.right - a.left, a.bottom - a.top); ctx.restore();
    },
  };
  const frame = {
    id: "mapframe",
    afterDatasetsDraw(chart: any) {
      const a = chart.chartArea; const ctx = chart.ctx;
      ctx.save(); ctx.strokeStyle = "#888"; ctx.lineWidth = 1;
      ctx.strokeRect(a.left + 0.5, a.top + 0.5, a.right - a.left - 1, a.bottom - a.top - 1); ctx.restore();
    },
  };
  const legend = {
    id: "maplegend",
    afterDraw(chart: any) {
      const ctx = chart.ctx;
      const lx = m.legend.l - c.x, ly = m.legend.t - c.y, lw = m.legend.r - m.legend.l, lh = m.legend.b - m.legend.t;
      const n = m.levels.length; const h = lh / n;
      ctx.save();
      for (let j = 0; j < n; j++) { ctx.fillStyle = GRAYS[n - 1 - j]; ctx.fillRect(lx, ly + j * h, lw, h); }
      ctx.strokeStyle = "#999"; ctx.lineWidth = 0.8;
      for (let j = 1; j < n; j++) { ctx.beginPath(); ctx.moveTo(lx, ly + j * h); ctx.lineTo(lx + lw, ly + j * h); ctx.stroke(); }
      ctx.strokeStyle = "#666"; ctx.lineWidth = 1; ctx.strokeRect(lx + 0.5, ly + 0.5, lw, lh);
      ctx.fillStyle = "#000"; ctx.font = `bold 12px ${FONT}`; ctx.textAlign = "left"; ctx.textBaseline = "middle";
      for (let j = 0; j < n; j++) {
        const y = ly + (j + 1) * h + (j === n - 1 ? -4 : 1);
        ctx.fillText(toAr(m.levels[n - 1 - j]), lx + lw + 5, y);
      }
      ctx.restore();
    },
  };
  const xt = (sc: any) => { sc.ticks = MAP_X_TICKS.map((v) => ({ value: v })); };
  const yt = (sc: any) => { sc.ticks = MAP_Y_TICKS.map((v) => ({ value: v })); };
  const markGrid = (len: number) => ({ display: true, drawOnChartArea: false, drawTicks: true, tickLength: len, color: "#666", lineWidth: 1 });
  const kmLabel = (v: any) => toAr(Math.round(Number(v) * 1000));
  return {
    type: "line",
    data: { datasets },
    options: {
      animation: false, responsive: false, events: [],
      layout: { padding: { left: pl, right: 0, top: 0, bottom: 0 } },
      plugins: {
        legend: { display: false }, tooltip: { enabled: false },
        title: { display: true, text: m.title + RLM, color: "#000", font: { family: FONT, size: 20, weight: "bold", lineHeight: 1 }, padding: { top: tcy - 10, bottom: T - tcy - 10 } },
      },
      scales: {
        x: {
          type: "linear", position: "bottom", min: MAP_X_RANGE[0], max: MAP_X_RANGE[1],
          afterBuildTicks: xt, afterFit: (sc: any) => { sc.height = xH; },
          ticks: { callback: kmLabel, font: { family: FONT, size: 13, weight: "bold" }, color: "#000", padding: m.labelCY - p.b - 7.8, autoSkip: false, maxRotation: 0, minRotation: 0 },
          grid: { display: false, drawTicks: false }, border: { display: false },
        },
        x2: {
          type: "linear", position: "top", min: MAP_X_RANGE[0], max: MAP_X_RANGE[1],
          afterBuildTicks: xt, afterFit: (sc: any) => { sc.height = 0; },
          ticks: { display: false }, grid: markGrid(5), border: { display: false },
        },
        y: {
          type: "linear", position: "left", min: MAP_Y_RANGE[0], max: MAP_Y_RANGE[1],
          afterBuildTicks: yt, afterFit: (sc: any) => { sc.width = yW; },
          ticks: { callback: kmLabel, font: { family: FONT, size: 14, weight: "bold" }, color: "#000", padding: 1, autoSkip: false },
          grid: markGrid(4), border: { display: false },
        },
        y2: {
          type: "linear", position: "right", min: MAP_Y_RANGE[0], max: MAP_Y_RANGE[1],
          afterBuildTicks: yt, afterFit: (sc: any) => { sc.width = wR; },
          ticks: { display: false }, grid: markGrid(4), border: { display: false },
        },
      },
    },
    plugins: [bg, frame, legend],
  };
}

function Panel({ box, make }: { box: Box; make: () => any }) {
  const ref = useRef<HTMLCanvasElement | null>(null);
  useEffect(() => {
    if (!ref.current) return;
    const chart = new Chart(ref.current, make());
    return () => chart.destroy();
  }, []);
  return (
    <canvas
      ref={ref}
      width={box.w}
      height={box.h}
      style={{ position: "absolute", left: box.x, top: box.y, width: box.w, height: box.h, display: "block" }}
    />
  );
}

export default function App() {
  return (
    <div style={{ position: "absolute", left: 0, top: 0, width: 955, height: 1233, background: "#fff", overflow: "hidden" }}>
      {SCATTERS.map((s, i) => (
        <Panel key={"s" + i} box={s.canvas} make={() => scatterConfig(s)} />
      ))}
      {MAPS.map((m, i) => (
        <Panel key={"m" + i} box={m.canvas} make={() => mapConfig(m)} />
      ))}
    </div>
  );
}
